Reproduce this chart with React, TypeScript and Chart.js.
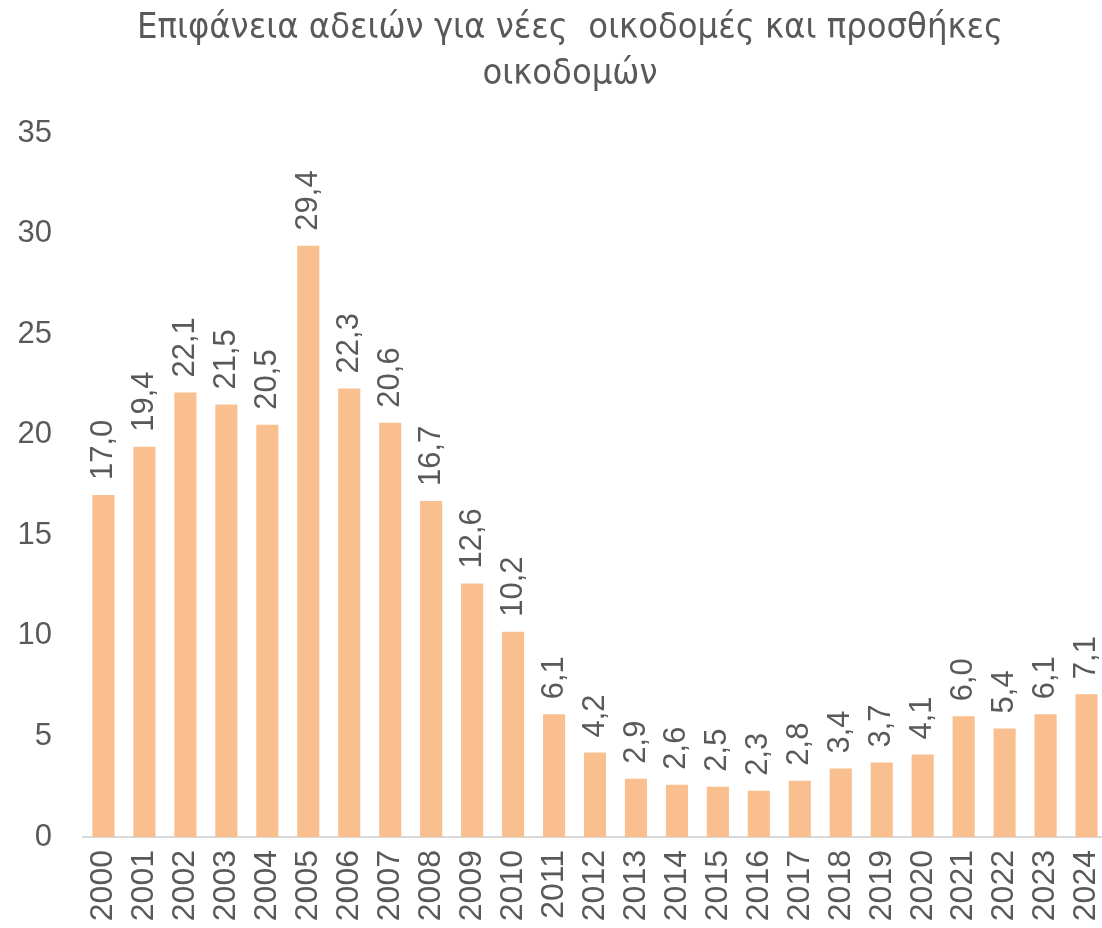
import React, { useEffect, useRef } from "react";
import { Chart, registerables } from "chart.js";

Chart.register(...registerables);

const titleLines = ["Επιφάνεια αδειών για νέες  οικοδομές και προσθήκες", "οικοδομών"];
const years = [
  "2000", "2001", "2002", "2003", "2004", "2005", "2006", "2007", "2008", "2009",
  "2010", "2011", "2012", "2013", "2014", "2015", "2016", "2017", "2018", "2019",
  "2020", "2021", "2022", "2023", "2024",
];
const values = [
  17.0, 19.4, 22.1, 21.5, 20.5, 29.4, 22.3, 20.6, 16.7, 12.6,
  10.2, 6.1, 4.2, 2.9, 2.6, 2.5, 2.3, 2.8, 3.4, 3.7,
  4.1, 6.0, 5.4, 6.1, 7.1,
];
const yMax = 35;
const yStep = 5;

const TEXT = "#595959";
const BAR = "#F9BF8F";
const FONT = "'Liberation Sans', Arial, sans-serif";
const TITLE_FONT = "'Liberation Sans Narrow', 'DejaVu Sans Condensed', 'Liberation Sans', sans-serif";

const titlePlugin = {
  id: "customTitle",
  afterDraw(chart: any) {
    const ctx = chart.ctx;
    ctx.save();
    ctx.fillStyle = TEXT;
    ctx.font = `36px ${TITLE_FONT}`;
    ctx.textAlign = "center";
    ctx.textBaseline = "middle";
    titleLines.forEach((line, i) => {
      ctx.fillText(line, 570, 29 + i * 46);
    });
    ctx.restore();
  },
};

const labelPlugin = {
  id: "barLabels",
  afterDatasetsDraw(chart: any) {
    const ctx = chart.ctx;
    const meta = chart.getDatasetMeta(0);
    ctx.save();
    ctx.fillStyle = TEXT;
    ctx.font = `31px ${FONT}`;
    ctx.textAlign = "left";
    ctx.textBaseline = "middle";
    meta.data.forEach((bar: any, i: number) => {
      const txt = values[i].toFixed(1).replace(".", ",");
      ctx.save();
      ctx.translate(bar.x, bar.y - 15);
      ctx.rotate(-Math.PI / 2);
      ctx.fillText(txt, 0, 0);
      ctx.restore();
    });
    ctx.restore();
  },
};

export default function App() {
  const ref = useRef<HTMLCanvasElement>(null);
  useEffect(() => {
    if (!ref.current) return;
    const chart = new Chart(ref.current, {
      type: "bar",
      data: {
        labels: years,
        datasets: [
          {
            data: values,
            backgroundColor: BAR,
            barPercentage: 0.54,
            categoryPercentage: 1,
          },
        ],
      },
      options: {
        animation: false,
        responsive: false,
        maintainAspectRatio: false,
        layout: { padding: { top: 133, left: 0, right: 0, bottom: 0 } },
        plugins: {
          legend: { display: false },
          title: { display: false },
          tooltip: { enabled: false },
        },
        scales: {
          x: {
            offset: true,
            grid: { display: false, drawTicks: false },
            border: { display: true, color: "#D9D9D9", width: 2 },
            ticks: {
              color: TEXT,
              font: { family: FONT, size: 32 },
              minRotation: 90,
              maxRotation: 90,
              autoSkip: false,
              padding: 13,
            },
            afterFit(scale: any) {
              scale.height = 91;
              scale.paddingLeft = 0;
              scale.paddingRight = 0;
            },
          },
          y: {
            min: 0,
            max: yMax,
            grid: { display: false, drawTicks: false },
            border: { display: false },
            ticks: {
              stepSize: yStep,
              color: TEXT,
              font: { family: FONT, size: 31 },
              padding: 31,
            },
            afterFit(scale: any) {
              scale.width = 83;
            },
          },
        },
      },
      plugins: [titlePlugin, labelPlugin],
    });
    return () => chart.destroy();
  }, []);
  return (
    <div style={{ position: "absolute", left: 0, top: 0, width: 1102, height: 928, overflow: "hidden", background: "#fff" }}>
      <canvas ref={ref} width={1107} height={928} style={{ display: "block" }} />
    </div>
  );
}
